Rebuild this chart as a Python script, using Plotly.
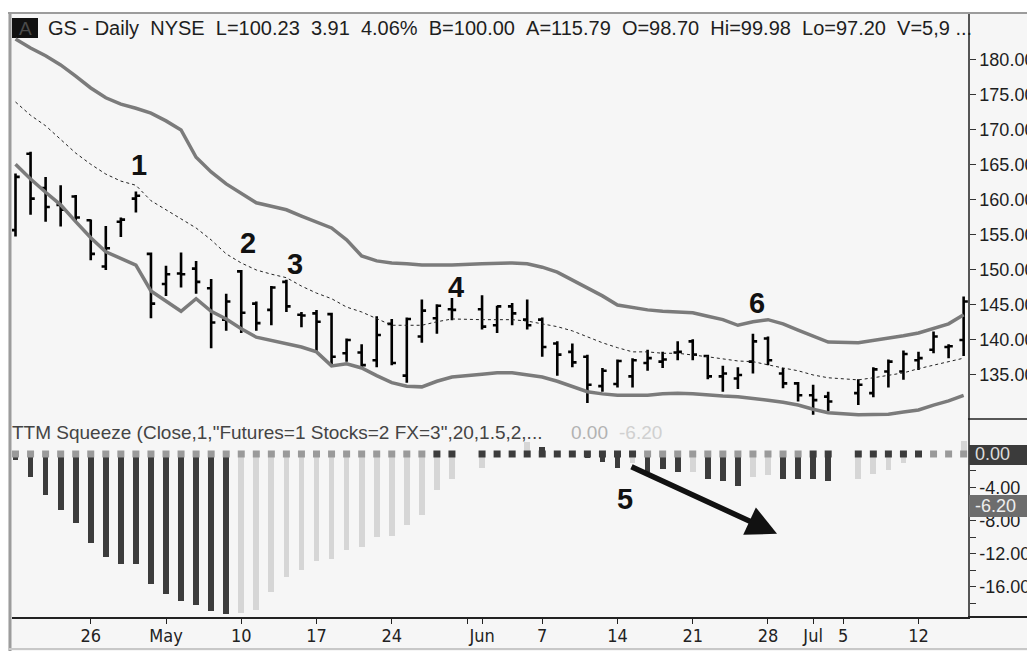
import pandas as pd
import plotly.graph_objects as go

# ---------------- data ----------------
# weekday slots (holidays shown as empty slots, as in the source chart)
slot_dates = [d.strftime("%Y-%m-%d") for d in pd.bdate_range("2010-04-19", "2010-07-15")]
holidays = ["2010-05-31", "2010-07-05"]
dates = [d for d in slot_dates if d not in holidays]

opens = [155.7, 166.6, 161.7, 159.3, 160.5, 157.1, 150.5, 156.9, 160.2, 152.3,
         148.0, 149.5, 150.2, 147.4, 142.9, 149.8, 145.2, 144.3, 148.3, 143.6,
         143.8, 143.7, 138.1, 138.2, 137.1, 142.3, 134.9, 140.5, 143.1, 144.4,
         144.4, 142.1, 144.8, 142.9, 142.9, 139.5, 138.3, 137.6, 133.4, 133.7,
         134.8, 136.7, 136.9, 138.2, 139.8, 137.7, 134.8, 134.5, 136.9, 140.2,
         135.2, 133.8, 132.1, 131.9,
         132.4, 132.4, 135.5, 135.5, 137.1, 138.6, 139.0, 140.0]
highs = [163.8, 166.9, 163.3, 162.1, 160.7, 157.2, 156.3, 157.5, 161.2, 152.5,
         150.6, 152.5, 151.3, 148.7, 146.6, 150.0, 145.5, 147.7, 148.6, 144.0,
         144.3, 143.9, 140.2, 139.4, 143.4, 143.0, 143.2, 145.8, 145.1, 146.0,
         146.4, 144.9, 145.3, 145.8, 143.2, 139.8, 139.5, 137.9, 136.0, 137.2,
         137.4, 138.6, 138.3, 139.8, 140.1, 137.9, 136.3, 136.1, 140.9, 140.5,
         136.0, 134.0, 133.6, 132.6,
         134.4, 136.1, 137.2, 138.5, 138.3, 141.2, 139.4, 146.2]
lows = [154.8, 157.9, 156.9, 156.2, 156.9, 151.4, 150.0, 154.7, 158.2, 143.1,
        146.3, 147.5, 146.6, 138.8, 141.3, 141.0, 141.3, 142.1, 144.0, 141.8,
        138.3, 136.4, 136.9, 136.1, 136.1, 136.4, 133.9, 139.6, 140.9, 142.8,
        141.5, 141.0, 142.1, 141.5, 137.6, 134.9, 136.1, 131.0, 132.6, 133.2,
        133.2, 135.6, 136.0, 137.1, 137.1, 134.4, 132.6, 133.0, 135.2, 136.4,
        133.1, 131.2, 129.3, 129.8,
        130.7, 131.8, 133.2, 134.3, 135.7, 138.1, 137.4, 137.7]
closes = [163.3, 160.2, 159.0, 158.6, 157.5, 152.3, 153.1, 157.2, 160.6, 145.2,
          149.4, 149.4, 148.3, 142.5, 145.5, 143.9, 142.4, 147.5, 144.8, 143.5,
          142.6, 137.6, 140.0, 136.4, 140.7, 136.7, 143.0, 144.2, 144.9, 144.3,
          141.9, 144.8, 143.8, 142.1, 139.0, 137.9, 136.8, 133.6, 135.6, 137.0,
          137.1, 137.4, 137.2, 138.3, 137.9, 134.8, 135.2, 135.0, 139.8, 137.1,
          133.8, 132.1, 131.4, 131.2,
          133.6, 135.8, 136.9, 138.0, 137.4, 140.5, 139.1, 145.5]

upper_band = [183.0, 181.7, 180.6, 179.3, 177.7, 176.0, 174.6, 173.7, 173.1, 172.4,
              171.3, 170.0, 166.1, 164.0, 162.3, 160.9, 159.6, 159.1, 158.6, 157.7,
              156.9, 156.0, 154.3, 152.0, 151.3, 151.0, 150.9, 150.7, 150.7, 150.7,
              150.9, 151.0, 151.0, 150.9, 150.4, 149.7, 148.6, 147.4, 146.3, 145.0,
              144.6, 144.3, 144.1, 144.0, 143.9, 143.4, 142.9, 142.1, 142.6, 142.9,
              142.3, 141.4, 140.6, 139.7,
              139.6, 139.9, 140.3, 140.6, 141.0, 141.6, 142.3, 143.6]
mid_line = [174.0, 172.1, 170.6, 168.7, 166.7, 165.1, 163.7, 162.7, 162.1, 159.9,
            158.6, 157.3, 156.0, 154.3, 152.3, 151.0, 150.0, 149.4, 148.9, 147.7,
            146.7, 145.9, 144.7, 144.0, 143.0, 142.1, 142.1, 142.1, 142.6, 143.0,
            142.9, 142.9, 142.9, 142.7, 142.3, 141.9, 141.3, 140.4, 139.6, 138.9,
            138.3, 138.3, 138.1, 138.1, 137.9, 137.6, 137.3, 137.0, 136.9, 136.4,
            136.0, 135.6, 135.0, 134.6,
            134.3, 134.6, 135.0, 135.3, 135.9, 136.4, 137.0, 137.4]
lower_band = [165.1, 163.0, 161.1, 159.3, 156.9, 154.6, 152.6, 151.6, 150.7, 147.0,
              145.6, 144.1, 145.9, 144.1, 143.0, 141.6, 140.4, 139.9, 139.4, 139.0,
              138.3, 136.3, 136.6, 136.0, 134.9, 133.9, 133.4, 133.3, 134.1, 134.7,
              135.1, 135.3, 135.3, 135.0, 134.7, 134.1, 133.4, 132.6, 132.3, 132.1,
              132.1, 132.1, 132.3, 132.4, 132.3, 132.1, 132.0, 131.9, 131.7, 131.4,
              131.1, 130.7, 130.1, 129.6,
              129.3, 129.3, 129.4, 129.7, 130.0, 130.7, 131.3, 132.1]

squeeze_hist = [-0.7, -2.8, -4.9, -6.7, -8.3, -10.7, -12.4, -13.2, -13.2, -15.6,
                -16.8, -17.7, -18.2, -18.9, -19.2, -19.1, -18.8, -16.6, -14.8, -14.0,
                -12.9, -12.6, -11.6, -11.2, -10.0, -9.9, -8.6, -7.3, -4.3, -3.0,
                -1.7, 0.0, 0.0, 1.5, 0.9, 0.0, -0.2, -0.5, -1.0, -1.7,
                -1.1, -2.2, -1.8, -2.2, -2.2, -3.0, -3.3, -3.8, -2.8, -2.5,
                -3.0, -3.0, -3.0, -3.2,
                -3.0, -2.4, -1.9, -1.1, -0.3, 0.0, 0.0, 1.6]
# D = dark bar, L = light bar
hist_shade = list("DDDDDDDDDDDDDDD" "LLLLLLLLLLLLLLL"
                  "LLLLDDDDDD" "LDDDLDDDLL" "DDDD" "LLLLLLLL")
# squeeze dots: 1 = dark (squeeze on), 0 = gray
squeeze_on = ([0] * 28 + [1, 1] +
              [1] * 11 + [0] * 11 + [1, 1] +
              [1] * 5 + [0] * 3)

tick_dates = ["2010-04-26", "2010-05-03", "2010-05-10", "2010-05-17", "2010-05-24",
              "2010-05-31", "2010-06-01", "2010-06-07", "2010-06-14", "2010-06-21",
              "2010-06-28", "2010-07-01", "2010-07-05", "2010-07-12"]
tick_labels = ["26", "May", "10", "17", "24", "", "Jun", "7", "14", "21", "28",
               "Jul", "5", "12"]
price_ticks = [135, 140, 145, 150, 155, 160, 165, 170, 175, 180]
sq_ticks = [-18, -16, -14, -12, -10, -8, -6, -4, -2]

header_items = ["GS - Daily", "NYSE", "L=100.23", "3.91", "4.06%", "B=100.00",
                "A=115.79", "O=98.70", "Hi=99.98", "Lo=97.20", "V=5,9 ..."]

# ---------------- geometry (screen pixels; the page body adds an 8px offset) ----------------
OFF = 8
SCREEN_W, SCREEN_H = 1035, 651
W, H = SCREEN_W - OFF, SCREEN_H - OFF
PLOT_X0, PLOT_X1, PLOT_Y0, PLOT_Y1 = 12, 968, 14, 617      # screen coords of plot area
L, R = PLOT_X0 - OFF, W - (PLOT_X1 - OFF)
T, B = PLOT_Y0 - OFF, H - (PLOT_Y1 - OFF)
PW, PH = PLOT_X1 - PLOT_X0, PLOT_Y1 - PLOT_Y0


def px(xs):
    return (xs - PLOT_X0) / PW


def py(ys):
    return (PLOT_Y1 - ys) / PH


split = py(419)
FONT = "Liberation Sans, Arial, sans-serif"
NARROW = "Liberation Sans Narrow, Arial Narrow, DejaVu Sans Condensed, sans-serif"
GAP = "\u00a0\u00a0"

fig = go.Figure()
fig.add_trace(go.Scatter(x=dates, y=upper_band, mode="lines",
                         line=dict(color="#7b7b7b", width=3.5), yaxis="y", hoverinfo="skip"))
fig.add_trace(go.Scatter(x=dates, y=lower_band, mode="lines",
                         line=dict(color="#7b7b7b", width=3.5), yaxis="y", hoverinfo="skip"))
fig.add_trace(go.Scatter(x=dates, y=mid_line, mode="lines",
                         line=dict(color="#222", width=1, dash="3px,3px"), yaxis="y", hoverinfo="skip"))
fig.add_trace(go.Ohlc(x=dates, open=opens, high=highs, low=lows, close=closes,
                      increasing=dict(line=dict(color="black", width=2.6)),
                      decreasing=dict(line=dict(color="black", width=2.6)),
                      tickwidth=0.28, yaxis="y"))
fig.add_trace(go.Bar(x=dates, y=squeeze_hist, width=0.38,
                     marker=dict(color=["#3c3c3c" if s == "D" else "#d6d6d6" for s in hist_shade],
                                 line=dict(width=0)),
                     yaxis="y2"))
fig.add_trace(go.Scatter(x=dates, y=[0] * len(dates), mode="markers",
                         marker=dict(symbol="square", size=7,
                                     color=["#3c3c3c" if s else "#9a9a9a" for s in squeeze_on]),
                         yaxis="y2"))

annotations = []
# header
annotations.append(dict(xref="paper", yref="paper", x=px(25), y=py(28), text="A",
                        showarrow=False, font=dict(family=FONT, size=19, color="#4a4a4a"),
                        xanchor="center", yanchor="middle"))
annotations.append(dict(xref="paper", yref="paper", x=px(46), y=py(28), text=GAP.join(header_items),
                        showarrow=False, font=dict(family=FONT, size=20, color="#1e1e1e"),
                        xanchor="left", yanchor="middle"))
# indicator title
annotations.append(dict(xref="paper", yref="paper", x=px(10), y=py(432),
                        text='TTM Squeeze (Close,1,"Futures=1 Stocks=2 FX=3",20,1.5,2,...',
                        showarrow=False, font=dict(family=FONT, size=19, color="#444"),
                        xanchor="left", yanchor="middle"))
annotations.append(dict(xref="paper", yref="paper", x=px(569), y=py(432), text="0.00",
                        showarrow=False, font=dict(family=FONT, size=19, color="#b2b2b2"),
                        xanchor="left", yanchor="middle"))
annotations.append(dict(xref="paper", yref="paper", x=px(617), y=py(432), text="-6.20",
                        showarrow=False, font=dict(family=FONT, size=19, color="#d0d0d0"),
                        xanchor="left", yanchor="middle"))
# value boxes on the squeeze axis
annotations.append(dict(xref="paper", yref="y2", x=px(973), y=0, text="0.00",
                        showarrow=False, font=dict(family=FONT, size=18, color="#dcdcdc"),
                        xanchor="left", yanchor="middle"))
annotations.append(dict(xref="paper", yref="y2", x=px(973), y=-6.2, text="-6.20",
                        showarrow=False, font=dict(family=FONT, size=18, color="#eeeeee"),
                        xanchor="left", yanchor="middle"))
# numbered callouts
for txt, xv, yv, yr in [("1", 8.2, 165.0, "y"), ("2", 15.45, 153.9, "y"), ("3", 18.57, 150.9, "y"),
                        ("4", 29.27, 147.6, "y"), ("6", 49.3, 145.3, "y"), ("5", 40.5, -5.4, "y2")]:
    annotations.append(dict(xref="x", yref=yr, x=xv, y=yv, text="<b>%s</b>" % txt,
                            showarrow=False, font=dict(family=FONT, size=29, color="#111"),
                            xanchor="center", yanchor="middle"))
# arrow
annotations.append(dict(xref="x", yref="y2", x=50.6, y=-9.6, axref="x", ayref="y2",
                        ax=40.83, ay=-1.44, text="", showarrow=True, arrowhead=2,
                        arrowsize=1.1, arrowwidth=5.5, arrowcolor="#111", standoff=0))

shapes = [
    # white strips outside the chart frame
    dict(type="rect", xref="paper", yref="paper", x0=px(0), x1=px(SCREEN_W), y0=py(12), y1=py(0),
         fillcolor="white", line=dict(width=0), layer="above"),
    dict(type="rect", xref="paper", yref="paper", x0=px(0), x1=px(8), y0=py(SCREEN_H), y1=py(0),
         fillcolor="white", line=dict(width=0), layer="above"),
    # frame lines
    dict(type="line", xref="paper", yref="paper", x0=px(8), x1=px(SCREEN_W), y0=py(13), y1=py(13),
         line=dict(color="#9c9c9c", width=2)),
    dict(type="line", xref="paper", yref="paper", x0=px(10), x1=px(10), y0=py(12), y1=py(SCREEN_H),
         line=dict(color="#9c9c9c", width=3)),
    dict(type="line", xref="paper", yref="paper", x0=px(8), x1=px(SCREEN_W), y0=py(649), y1=py(649),
         line=dict(color="#c8c8c8", width=2)),
    # "A" box
    dict(type="rect", xref="paper", yref="paper", x0=px(12), x1=px(38), y0=py(38), y1=py(18),
         fillcolor="#111", line=dict(width=0), layer="below"),
    # panel separator on the right axis area
    dict(type="line", xref="paper", yref="paper", x0=1, x1=px(SCREEN_W), y0=split, y1=split,
         line=dict(color="#222", width=1.5)),
    # bottom axis line extension
    dict(type="line", xref="paper", yref="paper", x0=1, x1=px(SCREEN_W), y0=0, y1=0,
         line=dict(color="#222", width=2)),
    # value boxes
    dict(type="rect", xref="paper", yref="paper", x0=px(969), x1=px(SCREEN_W), y0=py(465), y1=py(445),
         fillcolor="#3b3b3b", line=dict(width=0)),
    dict(type="rect", xref="paper", yref="paper", x0=px(969), x1=px(SCREEN_W), y0=py(517), y1=py(495),
         fillcolor="#6d6d6d", line=dict(width=0)),
]

fig.update_layout(
    width=W, height=H,
    margin=dict(l=L, r=R, t=T, b=B, pad=0, autoexpand=False),
    paper_bgcolor="#f6f6f6", plot_bgcolor="#f6f6f6",
    showlegend=False, bargap=0,
    xaxis=dict(type="category", categoryorder="array", categoryarray=slot_dates,
               range=[-0.233, 63.29], anchor="y2", domain=[0, 1], automargin=False,
               tickmode="array", tickvals=tick_dates, ticktext=tick_labels,
               ticks="outside", ticklen=5, tickwidth=1, tickcolor="#222",
               ticklabelstandoff=-4,
               showline=True, linecolor="#222", linewidth=2,
               showgrid=False, zeroline=False,
               tickfont=dict(family=NARROW, size=18, color="#222"),
               rangeslider=dict(visible=False)),
    yaxis=dict(domain=[split, 1], range=[128.71, 186.57], side="right", anchor="x",
               automargin=False,
               tickmode="array", tickvals=price_ticks, ticktext=["%.2f" % v for v in price_ticks],
               ticks="outside", ticklen=6, tickcolor="#333",
               showline=True, linecolor="#555", linewidth=1.5,
               showgrid=False, zeroline=False,
               tickfont=dict(family=FONT, size=18, color="#1e1e1e")),
    yaxis2=dict(domain=[0, split], range=[-19.61, 4.21], side="right", anchor="x",
                automargin=False,
                tickmode="array", tickvals=sq_ticks,
                ticktext=["%.2f" % v if v % 4 == 0 else "" for v in sq_ticks],
                ticks="outside", ticklen=6, tickcolor="#333",
                showline=True, linecolor="#555", linewidth=1.5,
                showgrid=False, zeroline=False,
                tickfont=dict(family=FONT, size=18, color="#1e1e1e")),
    annotations=annotations,
    shapes=shapes,
)

fig.write_html("out.html", config={"displayModeBar": False})
